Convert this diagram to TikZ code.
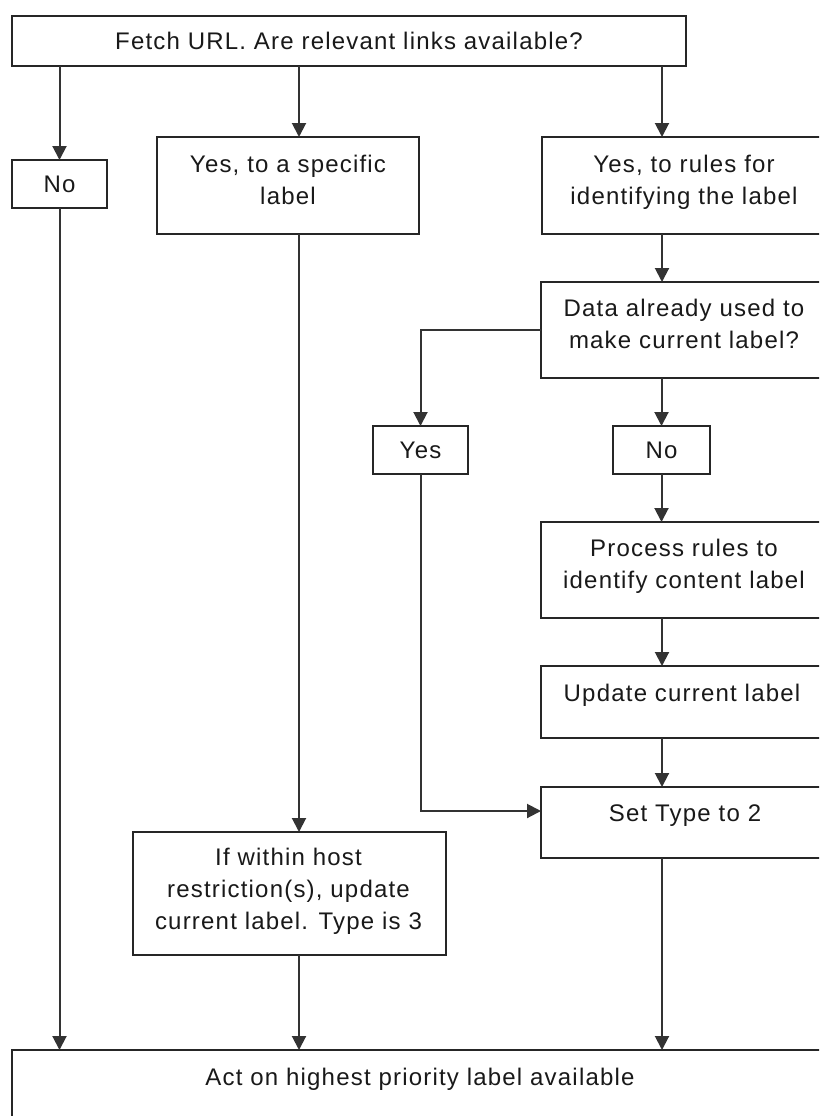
\documentclass[tikz,border=0pt]{standalone}
\usepackage{fontspec}
\setmainfont{Liberation Sans}[LetterSpace=5]
\usetikzlibrary{arrows.meta}
\begin{document}
\begin{tikzpicture}[x=1pt,y=-1pt,
  font=\fontsize{24}{32}\selectfont,
  box/.style={draw=black!85, line width=2.2pt, fill=white, inner sep=0pt, outer sep=0pt},
  txt/.style={align=center, inner sep=0pt, text=black!90},
  arr/.style={draw=black!80, line width=2pt, -{Triangle[width=14pt,length=14pt]}}]
\useasboundingbox (0,0) rectangle (819,1116);
\clip (0,0) rectangle (819,1116);
\fill[white] (0,0) rectangle (819,1116);
% column positions
\coordinate (c2) at (299,0);
\coordinate (c3) at (662,0);
% boxes
\node[box, minimum width=674pt, minimum height=50pt] (fetch) at (349,41) {};
\node[box, minimum width=95pt, minimum height=48pt] (no1) at (59.5,184) {};
\node[box, minimum width=262pt, minimum height=97pt] (spec) at (288,185.5) {};
\node[box, minimum width=284pt, minimum height=97pt] (rules) at (684,185.5) {};
\node[box, minimum width=285pt, minimum height=96pt] (data) at (683.5,330) {};
\node[box, minimum width=95pt, minimum height=48pt] (yes) at (420.5,450) {};
\node[box, minimum width=97pt, minimum height=48pt] (no2) at (661.5,450) {};
\node[box, minimum width=285pt, minimum height=96pt] (proc) at (683.5,570) {};
\node[box, minimum width=285pt, minimum height=72pt] (upd) at (683.5,702) {};
\node[box, minimum width=285pt, minimum height=71pt] (set) at (683.5,822.5) {};
\node[box, minimum width=313pt, minimum height=123pt] (ifb) at (289.5,893.5) {};
\node[box, minimum width=814pt, minimum height=100pt] (act) at (419,1100) {};
% texts
\node[txt] (fetcht) at (349,41) {Fetch URL. Are relevant links available?};
\node[txt] (no1t) at (59.5,184.5) {No};
\node[txt] (spect) at (288,180) {Yes, to a specific\\label};
\node[txt] (rulest) at (684,182.5) {Yes, to rules for\\identifying the label};
\node[txt] (datat) at (684,324) {Data already used to\\make current label?};
\node[txt] (yest) at (420.5,450) {Yes};
\node[txt] (no2t) at (661.5,450) {No};
\node[txt] (proct) at (684,566.5) {Process rules to\\identify content label};
\node[txt] (updt) at (682,695.5) {Update current label};
\node[txt] (sett) at (685,815.5) {Set Type to 2};
\node[txt] (ifbt) at (288.5,891.5) {If within host\\restriction(s), update\\current label. Type is 3};
\node[txt] (actt) at (420,1079.5) {Act on highest priority label available};
% connectors
\draw[arr] (fetch.south -| no1.north) -- (no1.north);
\draw[arr] (no1.south) -- (act.north -| no1.south);
\draw[arr] (fetch.south -| c2) -- (spec.north -| c2);
\draw[arr] (spec.south -| c2) -- (ifb.north -| c2);
\draw[arr] (ifb.south -| c2) -- (act.north -| c2);
\draw[arr] (fetch.south -| c3) -- (rules.north -| c3);
\draw[arr] (rules.south -| c3) -- (data.north -| c3);
\draw[arr] (data.south -| no2.north) -- (no2.north);
\draw[arr] (no2.south) -- (proc.north -| no2.south);
\draw[arr] (proc.south -| c3) -- (upd.north -| c3);
\draw[arr] (upd.south -| c3) -- (set.north -| c3);
\draw[arr] (set.south -| c3) -- (act.north -| c3);
\draw[arr] (data.west) -| (yes.north);
\draw[arr] (yes.south) |- ([yshift=11.5pt]set.west);
\end{tikzpicture}
\end{document}
